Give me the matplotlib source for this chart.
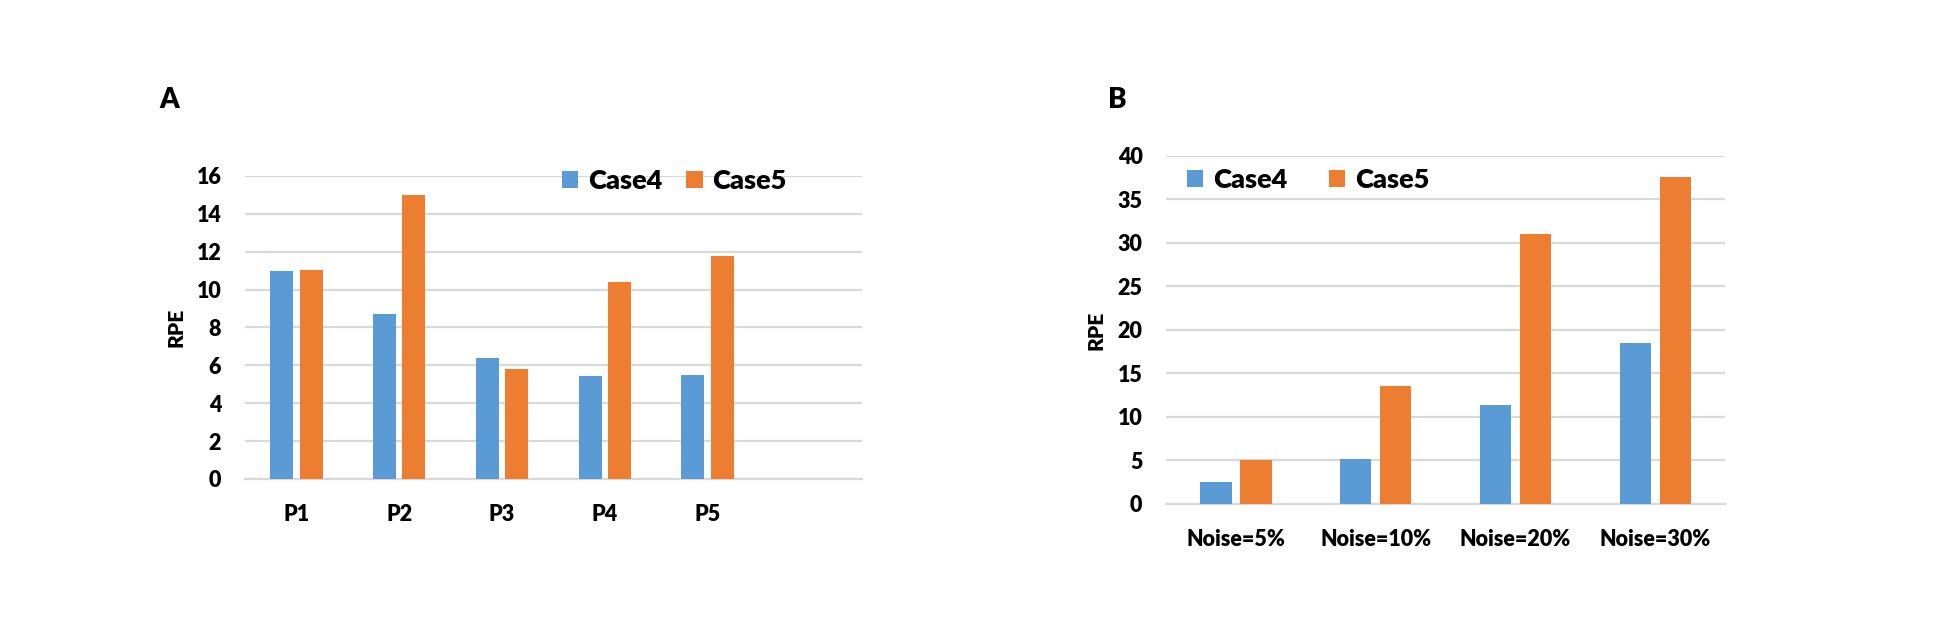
import numpy as np
import matplotlib
matplotlib.use('Agg')
import matplotlib.pyplot as plt

plt.rcParams['font.family'] = ['Lato', 'DejaVu Sans']
plt.rcParams['font.weight'] = 'heavy'

# panel A data
a_labels = ['P1', 'P2', 'P3', 'P4', 'P5']
a_case4 = [11.0, 8.7, 6.4, 5.45, 5.5]
a_case5 = [11.05, 15.0, 5.8, 10.4, 11.75]
a_yticks = [0, 2, 4, 6, 8, 10, 12, 14, 16]

# panel B data
b_labels = ['Noise=5%', 'Noise=10%', 'Noise=20%', 'Noise=30%']
b_case4 = [2.55, 5.2, 11.4, 18.5]
b_case5 = [5.05, 13.6, 31.05, 37.55]
b_yticks = [0, 5, 10, 15, 20, 25, 30, 35, 40]

series_names = ['Case4', 'Case5']
BLUE = '#5B9BD5'
ORANGE = '#ED7D31'
GRID = '#d9d9d9'


def bar_panel(ax, labels, s4, s5, yticks, n_slots, legend_anchor, colspacing, label_x):
    x = np.arange(len(labels))
    w = 0.224
    off = 0.143
    b4 = ax.bar(x - off, s4, w, color=BLUE, zorder=3, label=series_names[0])
    b5 = ax.bar(x + off, s5, w, color=ORANGE, zorder=3, label=series_names[1])

    ax.set_xlim(-0.5, n_slots - 0.5)
    ax.set_ylim(yticks[0], yticks[-1])
    ax.set_yticks(yticks)
    ax.set_xticks(x)
    ax.set_xticklabels(labels)
    ax.tick_params(axis='both', length=0, labelsize=15.5)
    ax.tick_params(axis='y', pad=17)
    ax.tick_params(axis='x', pad=18)

    ax.grid(axis='y', color=GRID, linewidth=1.6, zorder=0)
    for s in ['top', 'right', 'left']:
        ax.spines[s].set_visible(False)
    ax.spines['bottom'].set_color(GRID)
    ax.spines['bottom'].set_linewidth(1.6)

    ax.set_ylabel('RPE', fontsize=15, fontweight='heavy')
    ax.yaxis.set_label_coords(label_x, 0.5)

    ax.legend(handles=[b4, b5], ncol=2, loc='center left', bbox_to_anchor=legend_anchor,
              frameon=False, fontsize=19.5, handlelength=0.6, handleheight=0.6,
              handletextpad=0.35, columnspacing=colspacing, borderpad=0, borderaxespad=0)


fig = plt.figure(figsize=(19.5, 6.28), dpi=100)
ax_a = fig.add_axes([0.1256, 0.2373, 0.3164, 0.4825])
ax_b = fig.add_axes([0.598, 0.1975, 0.2867, 0.5541])

bar_panel(ax_a, a_labels, a_case4, a_case5, a_yticks, 6, (0.514, 0.983), 0.9, -0.097)
bar_panel(ax_b, b_labels, b_case4, b_case5, b_yticks, 4, (0.0376, 0.931), 1.55, -0.109)

fig.text(169 / 1950, 1 - 100 / 628, 'A', fontsize=20, fontweight='heavy', ha='center', va='center')
fig.text(1117 / 1950, 1 - 100 / 628, 'B', fontsize=20, fontweight='heavy', ha='center', va='center')

fig.savefig('out.png', dpi=100)
